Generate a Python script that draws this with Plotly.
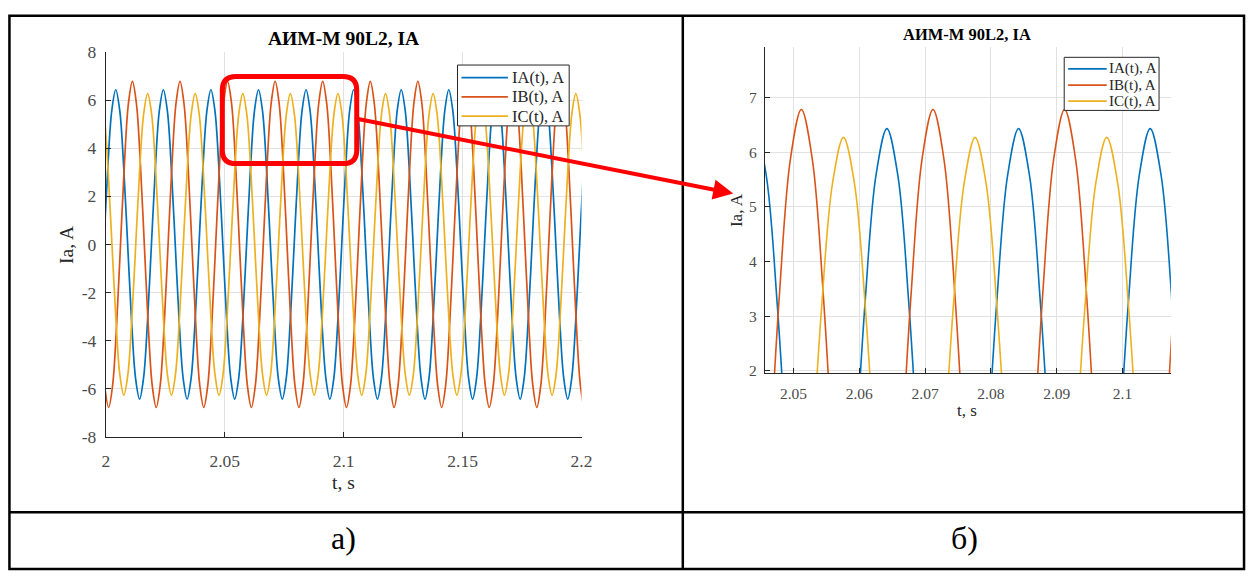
import numpy as np
import plotly.graph_objects as go

# ---- phase current waveforms (one period each, 30-degree steps starting at the positive peak) ----
period = 0.02                      # 50 Hz supply
steps_per_period = 12
ia_cycle = [6.43, 5.57, 3.22, 0.0, -3.22, -5.57, -6.43, -5.57, -3.22, 0.0, 3.22, 5.57]
ib_cycle = [6.78, 5.87, 3.39, 0.0, -3.39, -5.87, -6.78, -5.87, -3.39, 0.0, 3.39, 5.87]
ic_cycle = [6.27, 5.43, 3.14, 0.0, -3.14, -5.43, -6.27, -5.43, -3.14, 0.0, 3.14, 5.43]
ia_first_peak = 1.9842
ib_first_peak = 1.9912
ic_first_peak = 1.9776
n_periods = 12

names = ["IA(t), A", "IB(t), A", "IC(t), A"]
colors = ["#0072BD", "#D95319", "#EDB120"]

# axis settings
full_t_range = [2.0, 2.2]
full_i_range = [-8, 8]
full_t_ticks = [2.0, 2.05, 2.1, 2.15, 2.2]
full_t_text = ["2", "2.05", "2.1", "2.15", "2.2"]
full_i_ticks = [-8, -6, -4, -2, 0, 2, 4, 6, 8]
full_i_text = ["-8", "-6", "-4", "-2", "0", "2", "4", "6", "8"]

zoom_t_range = [2.04565, 2.10735]
zoom_i_range = [1.954, 7.924]
zoom_t_ticks = [2.05, 2.06, 2.07, 2.08, 2.09, 2.1]
zoom_t_text = ["2.05", "2.06", "2.07", "2.08", "2.09", "2.1"]
zoom_i_ticks = [2, 3, 4, 5, 6, 7]
zoom_i_text = ["2", "3", "4", "5", "6", "7"]

# highlighted region on the full view (data units of the left axes)
callout_t = [2.049, 2.1055]
callout_i = [3.36, 6.98]

title_text = "АИМ-М 90L2, IA"
ylabel_text = "Ia, A"
xlabel_text = "t, s"
caption_left = "а)"
caption_right = "б)"

W, H = 1258, 582
SERIF = "Liberation Serif"
TICK_COLOR = "#4a4a4a"
AXIS_COLOR = "#262626"
GRID_COLOR = "#e2e2e2"


def px(x):
    return x / W


def py(y):
    return 1 - y / H


def build_wave(first_peak, cycle):
    n = n_periods * steps_per_period + 1
    t = first_peak + np.arange(n) * (period / steps_per_period)
    v = np.tile(cycle, n_periods + 1)[:n]
    return t, v


waves = [build_wave(ia_first_peak, ia_cycle),
         build_wave(ib_first_peak, ib_cycle),
         build_wave(ic_first_peak, ic_cycle)]

fig = go.Figure()
for (t, v), name, col in zip(waves, names, colors):
    fig.add_trace(go.Scatter(x=t, y=v, name=name, mode="lines",
                             line=dict(color=col, width=1.7, shape="spline"),
                             xaxis="x", yaxis="y", showlegend=False))
for (t, v), name, col in zip(waves, names, colors):
    fig.add_trace(go.Scatter(x=t, y=v, name=name, mode="lines",
                             line=dict(color=col, width=1.6, shape="spline"),
                             xaxis="x2", yaxis="y2", showlegend=False))


def axis_style(size):
    return dict(showgrid=True, gridcolor=GRID_COLOR, gridwidth=1,
                showline=True, linecolor=AXIS_COLOR, linewidth=1,
                ticks="inside", ticklen=5, tickcolor=AXIS_COLOR, tickwidth=1,
                zeroline=False, mirror=False,
                tickfont=dict(family=SERIF, size=size, color=TICK_COLOR))


fig.update_layout(
    width=W, height=H,
    margin=dict(l=0, r=0, t=0, b=0),
    paper_bgcolor="white", plot_bgcolor="white",
    showlegend=False,
    xaxis=dict(domain=[px(103), px(584.5)], range=full_t_range, anchor="y",
               tickvals=full_t_ticks, ticktext=full_t_text, ticklabelstandoff=8,
               **axis_style(17.5)),
    yaxis=dict(domain=[py(442), py(43.5)], range=full_i_range, anchor="x",
               tickvals=full_i_ticks, ticktext=full_i_text, ticklabelstandoff=5,
               **axis_style(17.5)),
    xaxis2=dict(domain=[px(770), px(1181)], range=zoom_t_range, anchor="y2",
                tickvals=zoom_t_ticks, ticktext=zoom_t_text, ticklabelstandoff=6,
                **axis_style(15.5)),
    yaxis2=dict(domain=[py(376.3), py(38.3)], range=zoom_i_range, anchor="x2",
                tickvals=zoom_i_ticks, ticktext=zoom_i_text, ticklabelstandoff=4,
                **axis_style(15.5)),
)

annotations = []


def text(x, y, s, size, color=AXIS_COLOR, bold=False, angle=0, xanchor="center"):
    if bold:
        s = "<b>" + s + "</b>"
    annotations.append(dict(x=px(x), y=py(y), xref="paper", yref="paper",
                            text=s, showarrow=False, textangle=angle,
                            xanchor=xanchor, yanchor="middle",
                            font=dict(family=SERIF, size=size, color=color)))


# titles and axis labels
text(344, 29, title_text, 19.5, color="#000000", bold=True)
text(63, 243, ylabel_text, 19.5, angle=-90)
text(344, 489, xlabel_text, 19.5)
text(975, 25, title_text, 16.5, color="#000000", bold=True)
text(742, 207, ylabel_text, 17, angle=-90)
text(975, 415, xlabel_text, 17)

# captions
text(344, 547, caption_left, 32, color="#000000")
text(972, 547, caption_right, 32, color="#000000")

shapes = []


# legends drawn as framed boxes with sample lines
def legend_box(x0, y0, x1, y1, rows, line_x0, line_x1, text_x, size):
    shapes.append(dict(type="rect", xref="paper", yref="paper",
                       x0=px(x0), x1=px(x1), y0=py(y0), y1=py(y1),
                       line=dict(color=AXIS_COLOR, width=1), fillcolor="white",
                       layer="above"))
    for yy, name, col in zip(rows, names, colors):
        shapes.append(dict(type="line", xref="paper", yref="paper",
                           x0=px(line_x0), x1=px(line_x1), y0=py(yy), y1=py(yy),
                           line=dict(color=col, width=1.7), layer="above"))
        text(text_x, yy, name, size, color="#262626", xanchor="left")


legend_box(459, 57, 572, 120, [70, 90, 110], 463, 510, 512, 16.5)
legend_box(1073, 49, 1169, 104, [61, 77.7, 94.3], 1077, 1116, 1116, 15)

# rounded red frame around the magnified region (left axes data units)
rx = 0.0058
ry = 0.56
t0, t1 = callout_t
i0, i1 = callout_i
path = (f"M {t0 + rx},{i1} L {t1 - rx},{i1} Q {t1},{i1} {t1},{i1 - ry} "
        f"L {t1},{i0 + ry} Q {t1},{i0} {t1 - rx},{i0} "
        f"L {t0 + rx},{i0} Q {t0},{i0} {t0},{i0 + ry} "
        f"L {t0},{i1 - ry} Q {t0},{i1} {t0 + rx},{i1} Z")
shapes.append(dict(type="path", xref="x", yref="y", path=path,
                   line=dict(color="#FF0000", width=5), layer="above"))

# table grid
BORDER = dict(color="#000000", width=2.5)
shapes.append(dict(type="rect", xref="paper", yref="paper",
                   x0=px(5.5), x1=px(1255), y0=py(579), y1=py(6), line=BORDER))
shapes.append(dict(type="line", xref="paper", yref="paper",
                   x0=px(687), x1=px(687), y0=py(579), y1=py(6), line=BORDER))
shapes.append(dict(type="line", xref="paper", yref="paper",
                   x0=px(5.5), x1=px(1255), y0=py(520), y1=py(520), line=BORDER))

# arrow from the frame to the magnified plot
annotations.append(dict(x=px(738), y=py(190), xref="paper", yref="paper",
                        text="", showarrow=True, ax=360 - 738, ay=115 - 190,
                        axref="pixel", ayref="pixel",
                        arrowcolor="#FF0000", arrowwidth=4, arrowhead=2,
                        arrowsize=1, standoff=0))

fig.update_layout(annotations=annotations, shapes=shapes)
fig.write_html("out.html")
